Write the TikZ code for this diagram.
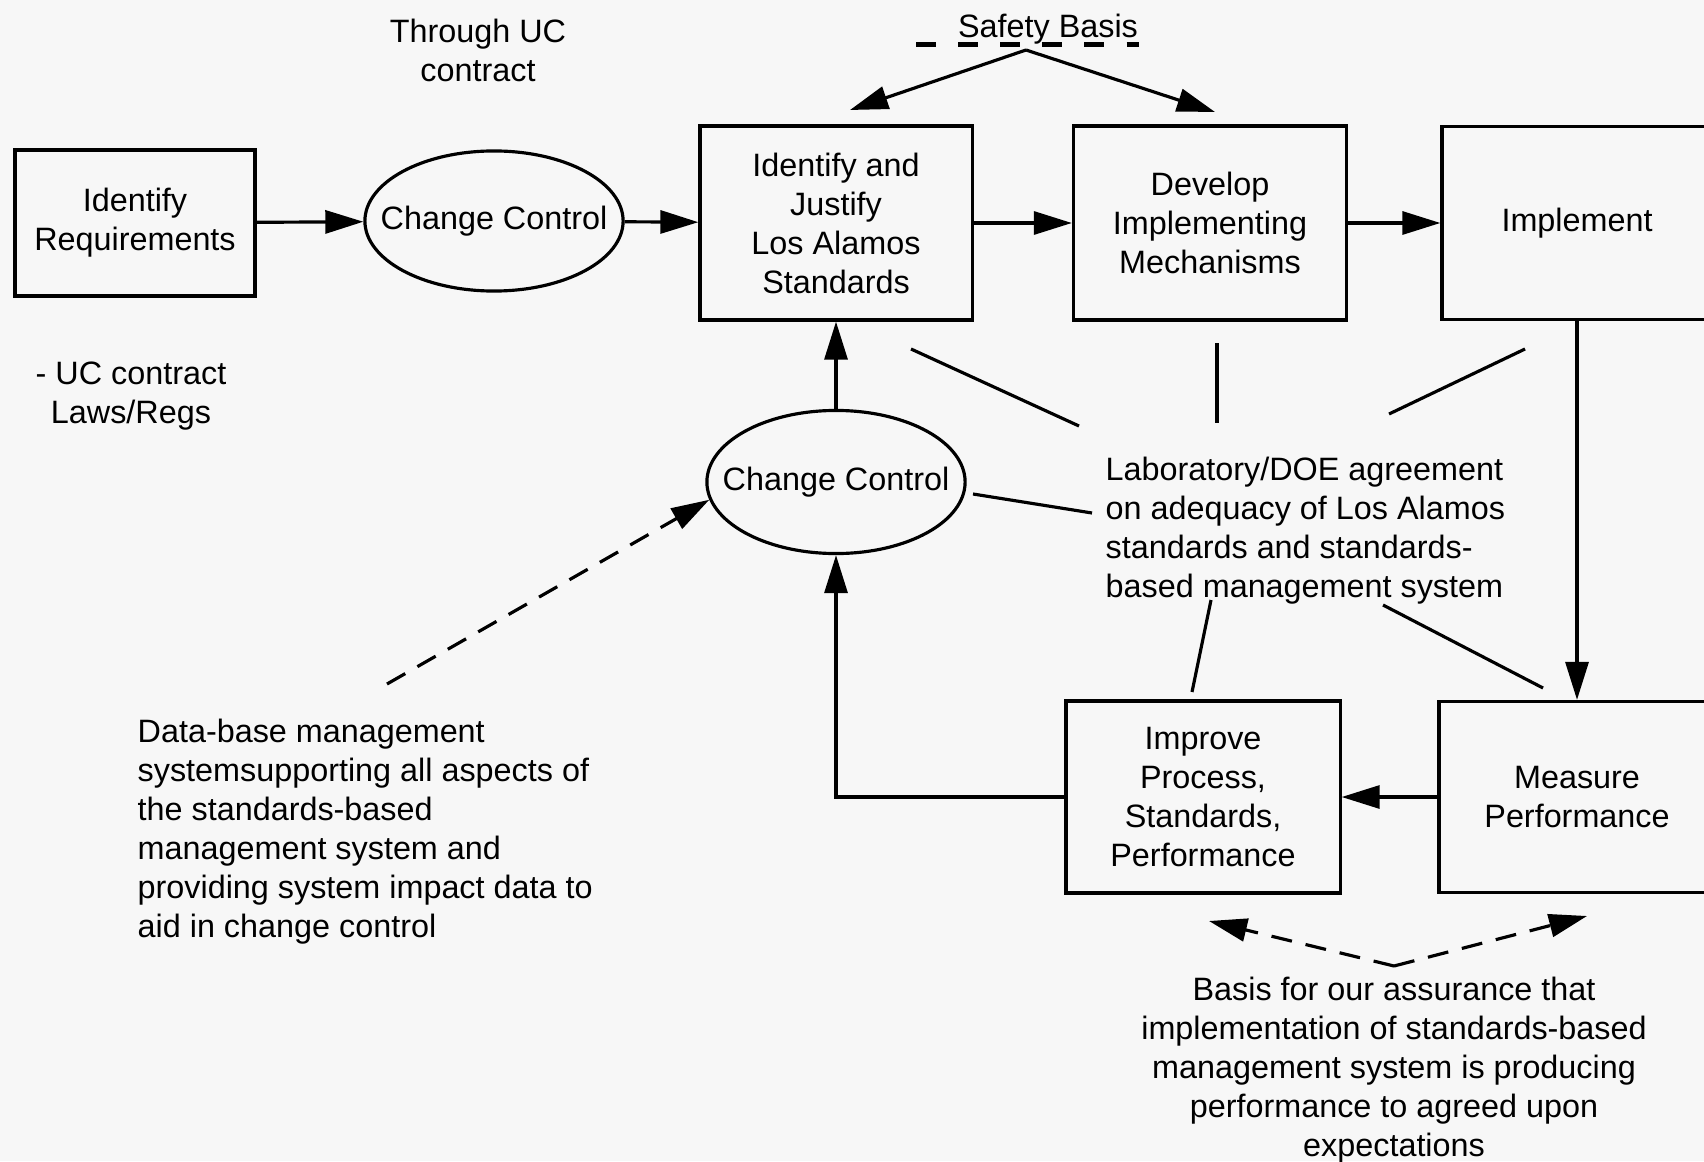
\documentclass[tikz,border=0pt]{standalone}
\usepackage{fontspec}
\setmainfont{Liberation Sans}
\usetikzlibrary{shapes.geometric,arrows.meta,positioning}
\definecolor{paper}{RGB}{247,247,247}
\newcommand\lab{\fontsize{9.2}{11.1}\selectfont}

\begin{document}
\begin{tikzpicture}[
    x=0.01cm, y=-0.01cm,
    box/.style={draw, line width=0.9pt, align=center, font=\lab},
    oval/.style={draw, ellipse, line width=0.9pt, minimum width=2.57cm, minimum height=1.4cm, inner xsep=-0.22cm, inner ysep=0pt, font=\lab},
    txt/.style={inner sep=0pt, font=\lab},
    arrow/.style={-{Triangle[length=0.38cm,width=0.23cm]}, line width=0.9pt},
    dasharrow/.style={arrow, dash pattern=on 0.21cm off 0.14cm},
    link/.style={line width=0.9pt}
]
\useasboundingbox (0,0) rectangle (1704,1161);
\fill[paper] (0,0) rectangle (1704,1161);
\clip (0,0) rectangle (1704,1161);

% main row
\node[box, minimum width=2.40cm, minimum height=1.46cm] (req) at (135,223) {Identify\\Requirements};
\node[oval] (cc1) at (494,221) {Change Control};
\node[box, minimum width=2.72cm, minimum height=1.94cm] (ij) at (836,223) {Identify and\\Justify\\Los Alamos\\Standards};
\node[box, minimum width=2.73cm, minimum height=1.94cm] (dev) at (1210,223) {Develop\\Implementing\\Mechanisms};
\node[box, minimum width=2.70cm, minimum height=1.93cm] (impl) at (1577,223) {Implement};

% feedback loop
\node[oval, minimum height=1.43cm] (cc2) at (836,482) {Change Control};
\node[box, minimum width=2.74cm, minimum height=1.92cm] (imp) at (1203,797) {Improve\\Process,\\Standards,\\Performance};
\node[box, minimum width=2.76cm, minimum height=1.91cm] (meas) at (1577,797) {Measure\\Performance};

% notes
\node[txt] (safety) at (1048,29) {Safety Basis};
\node[txt, align=center] (uc) at (478,50) {Through UC\\contract};
\node[txt, align=center] (laws) at (131,396) {- UC contract\\Laws/Regs};
\node[txt, align=left, anchor=west] (agree) at (1105,531) {Laboratory/DOE agreement\\on adequacy of Los Alamos\\standards and standards-\\based management system};
\node[txt, align=left, anchor=west] (dbms) at (137,832) {Data-base management\\systemsupporting all aspects of\\the standards-based\\management system and\\providing system impact data to\\aid in change control};
\node[txt, align=center] (basis) at (1394,1070) {Basis for our assurance that\\implementation of standards-based\\management system is producing\\performance to agreed upon\\expectations};

% free ends
\coordinate (sbtop) at (1026,50);
\coordinate (sbleft) at (850,110);
\coordinate (sbright) at (1215,112);
\coordinate (dbtail) at (387,684);
\coordinate (btop) at (1394,966);
\coordinate (bleft) at (1209,921);
\coordinate (bright) at (1587,916);
\coordinate (l1a) at (911,349);  \coordinate (l1b) at (1079,426);
\coordinate (l2a) at (1217,343); \coordinate (l2b) at (1217,423);
\coordinate (l3a) at (1525,349); \coordinate (l3b) at (1389,414);
\coordinate (l4a) at (973,494);  \coordinate (l4b) at (1092,513);
\coordinate (l5a) at (1211,600); \coordinate (l5b) at (1192,692);
\coordinate (l6a) at (1383,605); \coordinate (l6b) at (1543,688);

\draw[arrow] (req) -- (cc1);
\draw[arrow] (cc1) -- (ij);
\draw[arrow] (ij) -- (dev);
\draw[arrow] (dev) -- (impl);
\draw[arrow] (impl) -- (meas);
\draw[arrow] (meas) -- (imp);
\draw[arrow] (imp.west) -| (cc2.south);
\draw[arrow] (cc2) -- (ij);

\draw[line width=1.3pt, dash pattern=on 0.2cm off 0.22cm] ([xshift=-0.41cm]safety.south west) -- (safety.south east);
\draw[arrow] (sbtop) -- (sbleft);
\draw[arrow] (sbtop) -- (sbright);

\draw[dasharrow] (dbtail) -- (cc2.188);
\draw[dasharrow] (btop) -- (bleft);
\draw[dasharrow] (btop) -- (bright);

\draw[link] (l1a) -- (l1b);
\draw[link] (l2a) -- (l2b);
\draw[link] (l3a) -- (l3b);
\draw[link] (l4a) -- (l4b);
\draw[link] (l5a) -- (l5b);
\draw[link] (l6a) -- (l6b);
\end{tikzpicture}
\end{document}
